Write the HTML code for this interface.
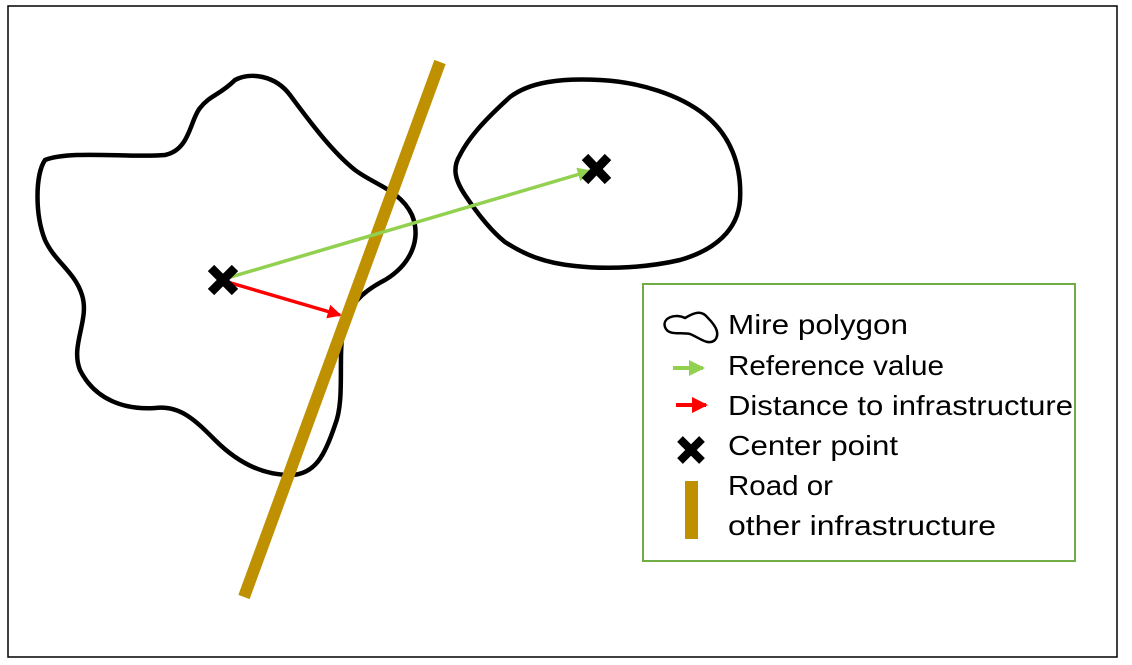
<!DOCTYPE html>
<html><head><meta charset="utf-8"><style>
html,body{margin:0;padding:0;background:#fff;}
svg{display:block;}
text{font-family:"Liberation Sans",sans-serif;font-size:28px;fill:#000;}
</style></head><body>
<svg width="1132" height="665" viewBox="0 0 1132 665">
<defs>
<marker id="ag" markerWidth="4" markerHeight="4" refX="3.5" refY="2" orient="auto" markerUnits="strokeWidth"><path d="M0,0 L4,2 L0,4 z" fill="#92D050"/></marker>
<marker id="ar" markerWidth="4" markerHeight="4" refX="3.5" refY="2" orient="auto" markerUnits="strokeWidth"><path d="M0,0 L4,2 L0,4 z" fill="#FF0000"/></marker>
</defs>
<rect x="8" y="6" width="1109" height="651" fill="#fff" stroke="#000" stroke-width="1.5"/>
<path fill="none" stroke="#000" stroke-width="4.5" stroke-linejoin="round"
d="M45,160 C70,150 130,158 165,155 C190,150 190,120 200,108 C210,95 220,95 235,80 C250,72 275,75 290,95 C305,115 330,150 355,170 C375,185 400,190 412,215 C422,240 410,265 385,280 C362,292 348,305 343,330 C338,360 345,400 335,425 C325,455 315,475 290,475 C260,475 235,460 215,440 C195,420 180,405 155,408 C125,410 95,400 80,370 C70,345 90,320 82,295 C75,272 55,262 45,240 C35,215 35,175 45,160 Z"/>
<path fill="none" stroke="#000" stroke-width="4.5" stroke-linejoin="round"
d="M460,155 C470,135 490,115 510,97 C530,82 560,78 600,80 C640,82 680,95 705,115 C730,135 742,165 740,200 C738,230 715,250 680,260 C650,267 610,270 575,266 C545,263 525,255 505,242 C490,230 475,210 465,195 C455,180 452,168 460,155 Z"/>
<line x1="440" y1="62" x2="244" y2="597" stroke="#BF9000" stroke-width="12"/>
<line x1="224" y1="279" x2="590" y2="171" stroke="#92D050" stroke-width="3.5" marker-end="url(#ag)"/>
<line x1="224" y1="281" x2="340" y2="315" stroke="#FF0000" stroke-width="3.5" marker-end="url(#ar)"/>
<g stroke="#000" stroke-width="9">
<line x1="211" y1="268" x2="235" y2="292"/><line x1="235" y1="268" x2="211" y2="292"/></g>
<g stroke="#000" stroke-width="9">
<line x1="585" y1="157" x2="608" y2="181"/><line x1="608" y1="157" x2="585" y2="181"/></g>
<g>
<rect x="643" y="284" width="432" height="277" fill="#fff" stroke="#70AD47" stroke-width="2"/>
<path d="M665,327 C662,318 675,313 685,318 C695,312 702,310 708,318 C716,326 720,334 715,340 C708,346 700,338 690,334 C680,332 668,336 665,327 Z" fill="none" stroke="#000" stroke-width="2.5"/>
<text x="728" y="334" textLength="180" lengthAdjust="spacingAndGlyphs">Mire polygon</text>
<line x1="673" y1="368" x2="703" y2="368" stroke="#92D050" stroke-width="4" marker-end="url(#ag)"/>
<text x="728" y="375" textLength="216" lengthAdjust="spacingAndGlyphs">Reference value</text>
<line x1="676" y1="405" x2="706" y2="405" stroke="#FF0000" stroke-width="4" marker-end="url(#ar)"/>
<text x="728" y="415" textLength="345" lengthAdjust="spacingAndGlyphs">Distance to infrastructure</text>
<g stroke="#000" stroke-width="8"><line x1="680" y1="439" x2="702" y2="461"/><line x1="702" y1="439" x2="680" y2="461"/></g>
<text x="728" y="455" textLength="170" lengthAdjust="spacingAndGlyphs">Center point</text>
<rect x="685" y="481" width="13" height="58" fill="#BF9000"/>
<text x="728" y="495" textLength="105" lengthAdjust="spacingAndGlyphs">Road or</text>
<text x="728" y="535" textLength="268" lengthAdjust="spacingAndGlyphs">other infrastructure</text>
</g>
</svg>
</body></html>
